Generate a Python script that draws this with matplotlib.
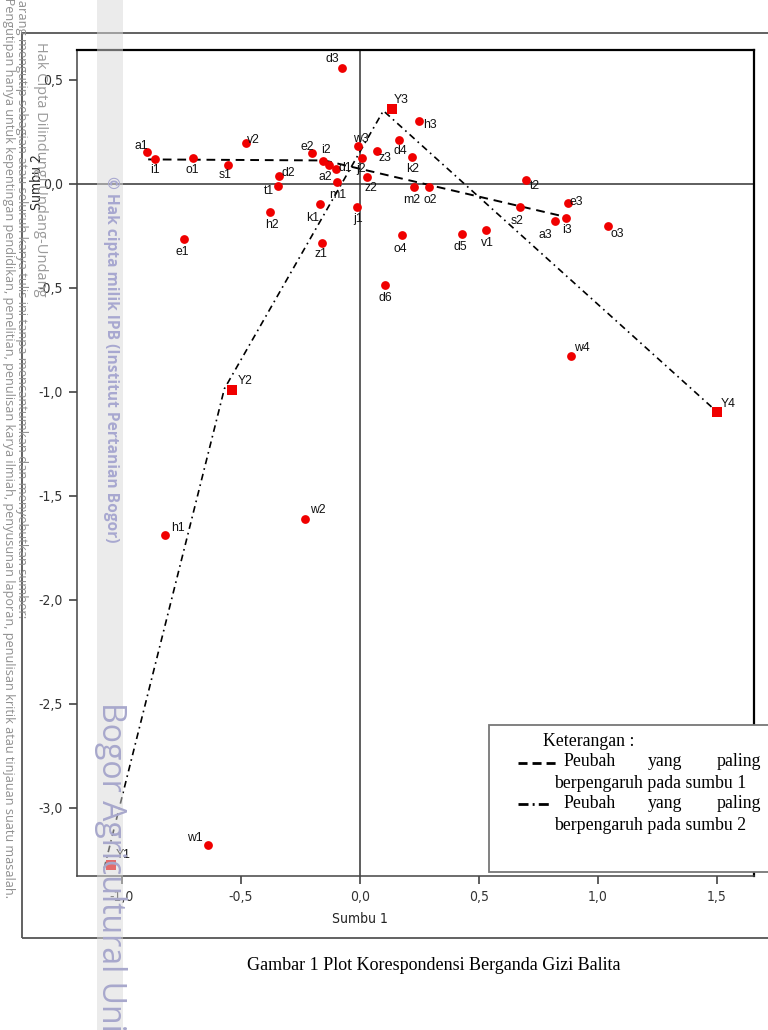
import matplotlib
matplotlib.use('Agg')
import matplotlib.pyplot as plt
from matplotlib.patches import Rectangle
from matplotlib.lines import Line2D
from matplotlib.ticker import FuncFormatter, FixedLocator

# ---------------- data ----------------
cat_labels = ['a1', 'i1', 'o1', 's1', 'v2', 'e2', 'i2', 'a2', 'd1', 'm1',
              'd2', 't1', 'h2', 'k1', 'j1', 'e1', 'z1', 'o4', 'w3', 'j2',
              'z3', 'd4', 'k2', 'z2', 'm2', 'o2', 'd3', 'h3', 't2', 's2',
              'e3', 'i3', 'a3', 'o3', 'd5', 'v1', 'd6', 'h1', 'w2', 'w1', 'w4']
cat_x = [-0.894, -0.861, -0.702, -0.556, -0.480, -0.202, -0.154, -0.132, -0.100, -0.096,
         -0.339, -0.346, -0.378, -0.169, -0.013, -0.738, -0.161, 0.177, -0.008, 0.007,
         0.070, 0.163, 0.220, 0.031, 0.227, 0.291, -0.074, 0.248, 0.696, 0.674,
         0.872, 0.867, 0.819, 1.040, 0.430, 0.529, 0.105, -0.818, -0.230, -0.640, 0.887]
cat_y = [0.152, 0.120, 0.126, 0.090, 0.197, 0.149, 0.112, 0.093, 0.074, 0.008,
         0.038, -0.008, -0.135, -0.095, -0.111, -0.266, -0.282, -0.245, 0.181, 0.125,
         0.159, 0.212, 0.130, 0.034, -0.016, -0.016, 0.556, 0.303, 0.019, -0.109,
         -0.093, -0.162, -0.180, -0.200, -0.240, -0.221, -0.484, -1.686, -1.610, -3.176, -0.827]

var_labels = ['Y1', 'Y2', 'Y3', 'Y4']
var_x = [-1.046, -0.539, 0.136, 1.500]
var_y = [-3.272, -0.990, 0.360, -1.096]

# hand-drawn guide lines (vertices)
axis1_line_x = [-0.890, -0.150, 0.862]
axis1_line_y = [0.118, 0.113, -0.158]
axis2_line_x = [-1.075, -0.570, 0.098, 1.500]
axis2_line_y = [-3.290, -0.985, 0.352, -1.096]

x_ticks = [-1.0, -0.5, 0.0, 0.5, 1.0, 1.5]
y_ticks = [0.5, 0.0, -0.5, -1.0, -1.5, -2.0, -2.5, -3.0]

# ---------------- layout ----------------
W, H = 768, 1030
def fx(px): return px / W
def fy(py): return 1 - py / H

# label offsets in pixels (dx, dy up)
label_off = {
    'a1': (-6, 6), 'i1': (0, -11), 'o1': (-1, -12), 's1': (-3, -10), 'v2': (8, 3),
    'e2': (-5, 6), 'i2': (3, 11), 'a2': (-3, -12), 'd1': (9, 1), 'm1': (1, -13),
    'd2': (9, 3), 't1': (-9, -5), 'h2': (2, -13), 'k1': (-7, -14), 'j1': (1, -12),
    'e1': (-2, -13), 'z1': (-1, -11), 'o4': (-2, -14), 'w3': (3, 7), 'j2': (-1, -11),
    'z3': (8, -7), 'd4': (1, -11), 'k2': (0, -12), 'z2': (4, -11), 'm2': (-2, -13),
    'o2': (1, -13), 'd3': (-10, 9), 'h3': (11, -4), 't2': (9, -6), 's2': (-3, -14),
    'e3': (9, 1), 'i3': (1, -12), 'a3': (-10, -14), 'o3': (10, -8), 'd5': (-2, -13),
    'v1': (1, -13), 'd6': (0, -13), 'h1': (13, 7), 'w2': (13, 9), 'w1': (-13, 7),
    'w4': (11, 8),
    'Y1': (12, 10), 'Y2': (13, 9), 'Y3': (9, 9), 'Y4': (11, 8),
}

lab_font = dict(family=['Liberation Sans', 'DejaVu Sans'], size=8.8, color='#111111')
serif = ['Liberation Serif', 'DejaVu Serif']
cond = ['DejaVu Sans']

fig = plt.figure(figsize=(W / 100, H / 100), dpi=100)
fig.patch.set_facecolor('white')

ax = fig.add_axes([fx(77), fy(876), fx(754) - fx(77), fy(50) - fy(876)])
ax.set_xlim(-1.189, 1.655)
ax.set_ylim(-3.327, 0.644)

ax.axhline(0, color='#333333', lw=1.1, zorder=1)
ax.axvline(0, color='#333333', lw=1.1, zorder=1)

ax.plot(axis1_line_x, axis1_line_y, color='black', lw=1.4,
        linestyle=(0, (4.5, 3)), zorder=2)
ax.plot(axis2_line_x, axis2_line_y, color='black', lw=1.2,
        linestyle=(0, (4, 2.5, 1, 2.5)), zorder=2)

ax.scatter(cat_x, cat_y, s=40, color='#f00000', zorder=3, linewidths=0)
ax.scatter(var_x, var_y, s=44, marker='s', color='#f00000', zorder=3, linewidths=0)

for lab, x, y in zip(cat_labels, cat_x, cat_y):
    dx, dy = label_off[lab]
    ax.annotate(lab, (x, y), xytext=(dx, dy), textcoords='offset pixels',
                ha='center', va='center', zorder=4, **lab_font)
for lab, x, y in zip(var_labels, var_x, var_y):
    dx, dy = label_off[lab]
    ax.annotate(lab, (x, y), xytext=(dx, dy), textcoords='offset pixels',
                ha='center', va='center', zorder=4, **lab_font)

ax.xaxis.set_major_locator(FixedLocator(x_ticks))
ax.yaxis.set_major_locator(FixedLocator(y_ticks))
fmt = FuncFormatter(lambda v, p: f"{v:.1f}".replace('.', ',').replace('-0,0', '0,0'))
ax.xaxis.set_major_formatter(fmt)
ax.yaxis.set_major_formatter(fmt)
ax.tick_params(direction='out', length=6, width=1.1, color='#333333', pad=4)
for t in ax.get_xticklabels() + ax.get_yticklabels():
    t.set_fontfamily(cond)
    t.set_fontstretch('condensed')
    t.set_fontsize(10)
    t.set_color('#333333')

for s in ['top', 'right']:
    ax.spines[s].set_color('black')
    ax.spines[s].set_linewidth(1.6)
for s in ['left', 'bottom']:
    ax.spines[s].set_color('#444444')
    ax.spines[s].set_linewidth(1.1)

fig.text(fx(360), fy(919), 'Sumbu 1', ha='center', va='center',
         family=cond, stretch='condensed', size=10, color='#222222')
fig.text(fx(37), fy(182), 'Sumbu 2', ha='center', va='center', rotation=90,
         family=cond, stretch='condensed', size=10, color='#222222')

# outer window frame
fig.add_artist(Rectangle((fx(22), fy(938)), fx(820) - fx(22), fy(33) - fy(938),
                         transform=fig.transFigure, fill=False, ec='#555555',
                         lw=1.3, zorder=1))

# legend box
fig.add_artist(Rectangle((fx(489), fy(872)), fx(820) - fx(489), fy(725) - fy(872),
                         transform=fig.transFigure, fc='white', ec='#777777',
                         lw=1.3, zorder=5))
lsz = 12.8
fig.text(fx(543), fy(742), 'Keterangan :', ha='left', va='center', family=serif,
         size=lsz, zorder=6)
for yy, txt2 in [(762, 'berpengaruh pada sumbu 1'), (803, 'berpengaruh pada sumbu 2')]:
    fig.text(fx(563), fy(yy), 'Peubah', ha='left', va='center', family=serif, size=lsz, zorder=6)
    fig.text(fx(665), fy(yy), 'yang', ha='center', va='center', family=serif, size=lsz, zorder=6)
    fig.text(fx(761), fy(yy), 'paling', ha='right', va='center', family=serif, size=lsz, zorder=6)
    fig.text(fx(554), fy(yy + 22), txt2, ha='left', va='center', family=serif, size=lsz, zorder=6)
fig.add_artist(Line2D([fx(518), fx(557)], [fy(763), fy(763)], transform=fig.transFigure,
                      color='black', lw=2, linestyle=(0, (3.25, 1.8)), zorder=6))
fig.add_artist(Line2D([fx(518), fx(549)], [fy(804), fy(804)], transform=fig.transFigure,
                      color='black', lw=2, linestyle=(0, (3.6, 1.5, 0.7, 1.5)), zorder=6))

# caption
fig.text(fx(434), fy(965), 'Gambar 1 Plot Korespondensi Berganda Gizi Balita',
         ha='center', va='center', family=serif, size=13)

# watermark
fig.add_artist(Rectangle((fx(97), 0), fx(123) - fx(97), 1, transform=fig.transFigure,
                         fc='#d8d8d8', ec='none', alpha=0.5, zorder=8))
wm_gray = '#8f8f8f'
fig.text(fx(8), fy(-16), 'a. Pengutipan hanya untuk kepentingan pendidikan, penelitian, '
         'penulisan karya ilmiah, penyusunan laporan, penulisan kritik atau tinjauan suatu masalah.',
         rotation=-90, ha='center', va='top', family=['Open Sans', 'DejaVu Sans'],
         size=9.1, color=wm_gray, zorder=9)
fig.text(fx(21), fy(-16), 'Dilarang mengutip sebagian atau seluruh karya tulis ini tanpa '
         'mencantumkan dan menyebutkan sumber:',
         rotation=-90, ha='center', va='top', family=['Open Sans', 'DejaVu Sans'],
         size=9.3, color=wm_gray, zorder=9)
fig.text(fx(40), fy(42), 'Hak Cipta Dilindungi Undang-Undang',
         rotation=-90, ha='center', va='top', family=['Open Sans', 'DejaVu Sans'],
         size=10.5, color='#9a9a9a', zorder=9)
fig.text(fx(111), fy(176), '\u00a9 Hak cipta milik IPB (Institut Pertanian Bogor)',
         rotation=-90, ha='center', va='top', family=['Open Sans', 'DejaVu Sans'],
         weight='bold', size=11.2, color='#a8a8d0', zorder=9)
fig.text(fx(110), fy(702), 'Bogor Agricultural University',
         rotation=-90, ha='center', va='top', family=['Open Sans', 'DejaVu Sans'],
         size=23, color='#a8a8cc', zorder=9)

fig.savefig('out.png', dpi=100, facecolor='white')
